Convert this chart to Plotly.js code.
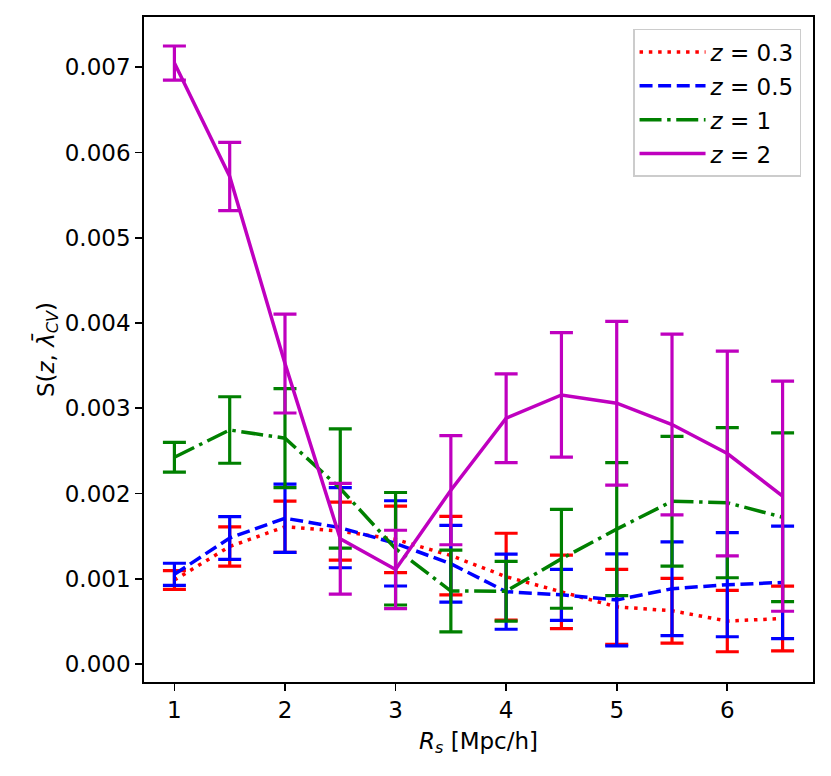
<!DOCTYPE html>
<html>
<head>
<meta charset="utf-8">
<script src="https://cdn.plot.ly/plotly-3.0.1.min.js"></script>
<style>
  html, body { margin: 0; padding: 0; background: #fff; }
  #chart { width: 831px; height: 776px; }
</style>
</head>
<body>
<div id="chart"></div>
<script>
// smoothing scale R_s [Mpc/h]
const rs = [1, 1.5, 2, 2.5, 3, 3.5, 4, 4.5, 5, 5.5, 6, 6.5];

// S(z, lambda_CV) per redshift, with 1-sigma errors
const s03 = [0.000986, 0.001379, 0.001611, 0.00156, 0.001463, 0.001273, 0.001025, 0.000847, 0.000671, 0.000626, 0.000505, 0.000534];
const e03 = [0.00011, 0.00023, 0.00030, 0.00034, 0.00039, 0.00046, 0.00051, 0.00043, 0.00044, 0.00038, 0.00036, 0.00038];

const s05 = [0.001053, 0.001479, 0.001711, 0.0016, 0.001416, 0.001176, 0.000849, 0.000812, 0.000753, 0.000884, 0.000931, 0.000958];
const e05 = [0.00013, 0.00025, 0.00040, 0.00047, 0.00050, 0.00045, 0.00044, 0.00030, 0.00054, 0.00055, 0.00061, 0.00066];

const s1 = [0.002426, 0.002746, 0.00265, 0.00206, 0.001353, 0.000857, 0.000855, 0.001235, 0.001583, 0.00191, 0.001893, 0.001723];
const e1 = [0.000175, 0.00039, 0.00058, 0.00070, 0.00066, 0.00048, 0.00035, 0.00058, 0.00078, 0.00076, 0.00088, 0.00099];

const s2 = [0.00705, 0.00572, 0.003525, 0.00147, 0.00111, 0.00204, 0.002884, 0.003157, 0.00306, 0.00281, 0.00247, 0.00197];
const e2 = [0.00020, 0.00040, 0.00058, 0.00065, 0.00046, 0.00064, 0.00052, 0.00073, 0.00096, 0.00106, 0.00120, 0.00135];

const xTicks = [1, 2, 3, 4, 5, 6];
const yTicks = [0, 0.001, 0.002, 0.003, 0.004, 0.005, 0.006, 0.007];

const FONT = "DejaVu Sans, Verdana, sans-serif";
const FS = 23;
const LW = 3.5;

function series(y, err, name, color, dash, group) {
  return {
    x: rs,
    y: y,
    type: "scatter",
    mode: "lines",
    name: name,
    legendgroup: group,
    line: { color: color, width: LW, dash: dash },
    error_y: {
      type: "data",
      array: err,
      visible: true,
      color: color,
      thickness: 3.2,
      width: 11.5
    },
    hoverinfo: "x+y"
  };
}

const traces = [
  series(s03, e03, "<i>z</i> = 0.3", "#ff0000", "3.5px,5.8px", "a"),
  series(s05, e05, "<i>z</i> = 0.5", "#0000ff", "13px,5.6px", "b"),
  series(s1, e1, "<i>z</i> = 1", "#008000", "22px,5.6px,3.5px,5.6px", "c"),
  series(s2, e2, "<i>z</i> = 2", "#bf00bf", "solid", "d")
];

const axisCommon = {
  showline: true,
  linecolor: "#000",
  linewidth: 1.8,
  mirror: true,
  ticks: "outside",
  ticklen: 7,
  tickwidth: 1.8,
  tickcolor: "#000",
  showgrid: false,
  zeroline: false,
  tickfont: { family: FONT, size: FS, color: "#000" }
};

const layout = {
  width: 831,
  height: 776,
  paper_bgcolor: "#fff",
  plot_bgcolor: "#fff",
  margin: { l: 144, r: 18, t: 17, b: 94 },
  font: { family: FONT, size: FS, color: "#000" },
  showlegend: true,
  legend: {
    x: 0.731,
    y: 0.982,
    xanchor: "left",
    yanchor: "top",
    traceorder: "grouped",
    tracegroupgap: 1,
    itemwidth: 66,
    bgcolor: "rgba(255,255,255,0.8)",
    bordercolor: "#cccccc",
    borderwidth: 1.5,
    font: { family: FONT, size: FS, color: "#000" }
  },
  xaxis: {
    ...axisCommon,
    range: [0.725, 6.775],
    tickvals: xTicks,
    ticktext: xTicks.map(String),
    title: { text: "<i>R<sub>s</sub></i> [Mpc/h]", font: { family: FONT, size: FS }, standoff: 10 }
  },
  yaxis: {
    ...axisCommon,
    range: [-0.00021, 0.00759],
    tickvals: yTicks,
    ticktext: yTicks.map(v => v.toFixed(3)),
    title: { text: "S(<i>z</i>, <i>λ̄</i><sub><i>CV</i></sub>)", font: { family: FONT, size: FS }, standoff: 4 }
  }
};

Plotly.newPlot("chart", traces, layout, { displayModeBar: false, staticPlot: true });
</script>
</body>
</html>
